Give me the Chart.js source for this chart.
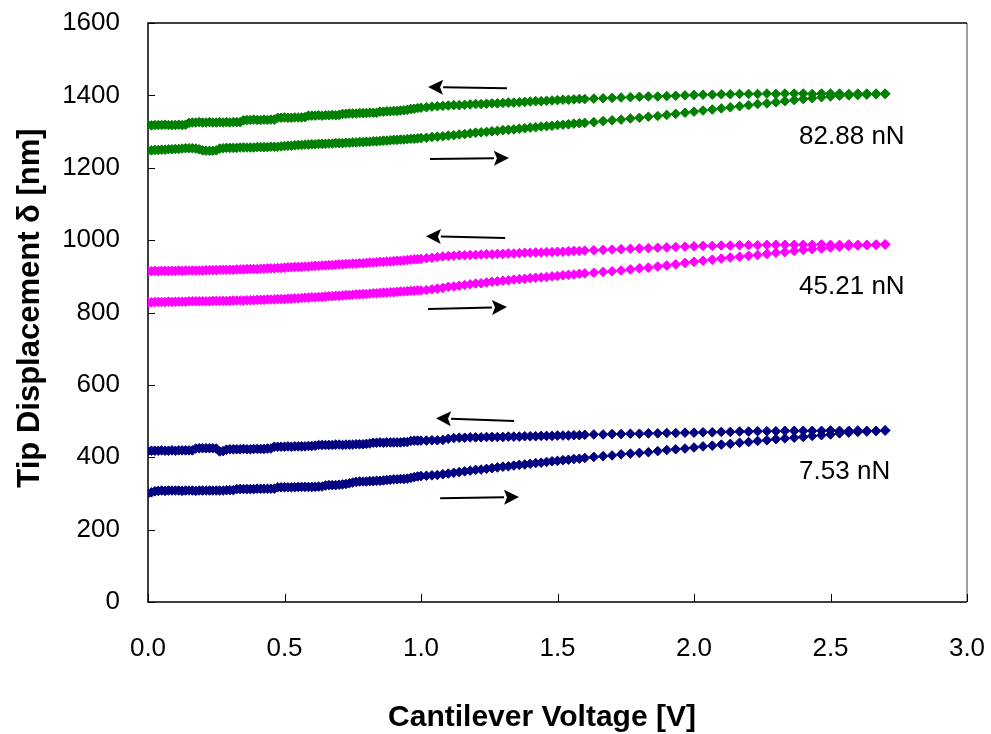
<!DOCTYPE html>
<html>
<head>
<meta charset="utf-8">
<title>Tip Displacement vs Cantilever Voltage</title>
<script src="https://cdn.jsdelivr.net/npm/chart.js@4.4.1/dist/chart.umd.min.js"></script>
<style>
  body { margin: 0; background: #fff; }
  #wrap { width: 991px; height: 734px; }
</style>
</head>
<body>
<div id="wrap"><canvas id="myChart" width="991" height="734"></canvas></div>
<script>
// cantilever voltage [V] at each sample, same points for the up and down sweep
// (fine steps below 1 V, coarser towards the top of the sweep)
const voltage = [
  0, 0.0125, 0.025, 0.0375, 0.05, 0.0625, 0.075, 0.0875,
  0.1, 0.1125, 0.125, 0.1375, 0.15, 0.1625, 0.175, 0.1875,
  0.2, 0.2125, 0.225, 0.2375, 0.25, 0.2625, 0.275, 0.2875,
  0.3, 0.3125, 0.325, 0.3375, 0.35, 0.3625, 0.375, 0.3875,
  0.4, 0.4125, 0.425, 0.4375, 0.45, 0.4625, 0.475, 0.4875,
  0.5, 0.5125, 0.525, 0.5375, 0.55, 0.5625, 0.575, 0.5875,
  0.6, 0.6125, 0.625, 0.6375, 0.65, 0.6625, 0.675, 0.6875,
  0.7, 0.7125, 0.725, 0.7375, 0.75, 0.7625, 0.775, 0.7875,
  0.8, 0.8125, 0.825, 0.8375, 0.85, 0.8625, 0.875, 0.8875,
  0.9, 0.9125, 0.925, 0.9375, 0.95, 0.9625, 0.975, 0.9875,
  1.0,
  1.02, 1.04, 1.06, 1.08, 1.1, 1.12, 1.14, 1.16, 1.18, 1.2,
  1.22, 1.24, 1.26, 1.28, 1.3, 1.32, 1.34, 1.36, 1.38, 1.4,
  1.42, 1.44, 1.46, 1.48, 1.5, 1.52, 1.54, 1.56, 1.58, 1.6,
  1.633, 1.667, 1.7, 1.733, 1.767, 1.8, 1.833, 1.867, 1.9, 1.933, 1.967, 2.0, 2.033, 2.067, 2.1, 2.133, 2.167, 2.2, 2.233,
  2.267, 2.3, 2.333, 2.367, 2.4, 2.433, 2.467, 2.5, 2.533, 2.567, 2.6, 2.633, 2.667, 2.7
];

// tip displacement [nm], "up" = voltage going up (lower branch), "down" = coming back (upper branch)
const green_up = [
  1248, 1248, 1249, 1249, 1250, 1250, 1251, 1251,
  1252, 1252, 1253, 1254, 1254, 1254, 1253, 1251,
  1248, 1247, 1247, 1247, 1248, 1253, 1254, 1255,
  1255, 1255, 1255, 1256, 1256, 1256, 1256, 1256,
  1257, 1257, 1257, 1257, 1258, 1258, 1258, 1259,
  1260, 1261, 1261, 1262, 1263, 1263, 1264, 1264,
  1265, 1265, 1266, 1266, 1266, 1267, 1267, 1268,
  1268, 1268, 1269, 1269, 1270, 1270, 1271, 1271,
  1272, 1272, 1273, 1273, 1274, 1275, 1275, 1276,
  1277, 1277, 1278, 1278, 1279, 1280, 1280, 1281,
  1282,
  1283, 1285, 1286, 1287, 1289, 1290, 1292, 1293, 1295, 1297,
  1298, 1299, 1301, 1302, 1304, 1305, 1306, 1308, 1309, 1311,
  1312, 1314, 1315, 1316, 1318, 1319, 1320, 1322, 1323, 1324,
  1326, 1329, 1331, 1333, 1336, 1338, 1341, 1343, 1346, 1349, 1352, 1355, 1358, 1361, 1364, 1367, 1370, 1373, 1376,
  1378, 1381, 1384, 1387, 1390, 1392, 1395, 1397, 1399, 1400, 1401, 1402, 1403, 1404
];
const green_down = [
  1318, 1317, 1318, 1318, 1318, 1319, 1318, 1318,
  1318, 1319, 1318, 1319, 1324, 1325, 1325, 1326,
  1325, 1325, 1326, 1325, 1325, 1326, 1325, 1326,
  1325, 1326, 1326, 1326, 1331, 1332, 1332, 1333,
  1332, 1332, 1333, 1332, 1333, 1333, 1338, 1338,
  1339, 1338, 1338, 1339, 1339, 1339, 1340, 1344,
  1344, 1344, 1345, 1344, 1345, 1345, 1346, 1345,
  1346, 1349, 1349, 1350, 1350, 1350, 1351, 1351,
  1351, 1352, 1352, 1352, 1355, 1355, 1356, 1356,
  1357, 1357, 1358, 1359, 1360, 1362, 1363, 1365,
  1366,
  1367, 1369, 1370, 1371, 1372, 1373, 1373, 1374, 1375, 1376,
  1376, 1377, 1378, 1378, 1379, 1380, 1380, 1381, 1382, 1383,
  1384, 1384, 1385, 1386, 1387, 1388, 1388, 1389, 1390, 1390,
  1391, 1392, 1393, 1394, 1395, 1396, 1397, 1397, 1398, 1399, 1400, 1401, 1402, 1402, 1403, 1403, 1404, 1404, 1404,
  1405, 1404, 1405, 1405, 1405, 1404, 1405, 1405, 1405, 1404, 1405, 1405, 1405, 1405
];
const pink_up = [
  828, 828, 829, 829, 829, 829, 830, 829,
  830, 830, 830, 830, 831, 831, 831, 831,
  831, 831, 831, 832, 832, 832, 832, 832,
  832, 833, 833, 833, 833, 834, 834, 834,
  835, 835, 835, 836, 836, 836, 837, 837,
  837, 838, 838, 839, 839, 840, 841, 841,
  842, 842, 843, 843, 844, 845, 845, 846,
  846, 847, 848, 848, 849, 850, 850, 851,
  851, 852, 853, 853, 854, 855, 855, 856,
  856, 857, 858, 858, 859, 860, 860, 861,
  861,
  862, 864, 866, 868, 871, 872, 874, 876, 878, 880,
  881, 883, 885, 886, 888, 889, 891, 892, 893, 895,
  896, 897, 898, 900, 901, 903, 904, 905, 907, 908,
  910, 912, 914, 916, 919, 922, 924, 927, 930, 933, 937, 940, 943, 946, 949, 952, 954, 957, 959,
  962, 965, 967, 970, 973, 975, 977, 980, 982, 984, 985, 986, 987, 988
];
const pink_down = [
  914, 914, 915, 914, 915, 915, 915, 915,
  915, 916, 915, 916, 916, 916, 916, 916,
  916, 917, 917, 917, 917, 918, 918, 918,
  918, 918, 919, 919, 919, 920, 920, 920,
  920, 921, 921, 922, 922, 922, 923, 923,
  924, 925, 925, 926, 926, 926, 927, 927,
  928, 929, 929, 930, 930, 931, 931, 932,
  933, 933, 934, 934, 935, 935, 936, 936,
  937, 938, 938, 939, 940, 940, 941, 941,
  942, 943, 943, 944, 945, 946, 947, 947,
  948,
  950, 951, 953, 955, 956, 957, 958, 958, 959, 959,
  960, 961, 961, 962, 962, 963, 963, 964, 965, 965,
  966, 966, 967, 967, 968, 968, 969, 970, 970, 971,
  972, 973, 974, 975, 976, 977, 978, 979, 980, 981, 982, 983, 984, 984, 985, 985, 986, 986, 986,
  987, 987, 987, 987, 987, 987, 988, 987, 987, 988, 987, 987, 988, 988
];
const blue_up = [
  300, 303, 306, 307, 308, 307, 308, 308,
  308, 308, 307, 308, 308, 308, 307, 308,
  308, 308, 308, 308, 308, 308, 308, 309,
  309, 309, 312, 312, 312, 312, 312, 312,
  313, 313, 313, 313, 313, 313, 317, 317,
  317, 317, 317, 317, 318, 318, 318, 318,
  318, 318, 319, 319, 322, 323, 323, 323,
  324, 325, 326, 328, 330, 332, 333, 333,
  333, 334, 334, 335, 335, 336, 337, 338,
  339, 339, 340, 340, 341, 343, 345, 347,
  348,
  349, 350, 351, 353, 355, 357, 359, 361, 363, 365,
  366, 368, 370, 372, 374, 375, 377, 379, 380, 382,
  384, 385, 387, 389, 390, 392, 393, 395, 396, 398,
  401, 403, 405, 408, 410, 412, 414, 417, 420, 422, 424, 427, 430, 432, 435, 437, 440, 442, 445,
  447, 450, 452, 454, 456, 459, 461, 463, 466, 468, 470, 471, 473, 474
];
const blue_down = [
  417, 418, 418, 418, 419, 418, 418, 419,
  418, 419, 419, 419, 419, 419, 424, 425,
  425, 425, 425, 425, 424, 416, 417, 421,
  422, 422, 422, 422, 423, 422, 422, 423,
  423, 423, 423, 424, 424, 429, 429, 429,
  429, 430, 429, 430, 430, 430, 430, 431,
  431, 432, 434, 434, 434, 434, 434, 435,
  435, 434, 435, 435, 435, 436, 436, 436,
  437, 438, 440, 440, 441, 440, 441, 441,
  441, 441, 441, 442, 442, 445, 446, 446,
  446,
  446, 447, 447, 448, 451, 453, 454, 454, 455, 455,
  455, 456, 456, 456, 456, 457, 457, 457, 458, 458,
  458, 459, 459, 459, 460, 460, 460, 461, 461, 462,
  463, 463, 464, 464, 465, 465, 466, 466, 467, 467, 468, 468, 469, 469, 470, 470, 471, 471, 472,
  472, 472, 473, 473, 473, 473, 473, 474, 473, 473, 474, 473, 473, 474
];

// applied force for each pair of curves
const forces = ['82.88 nN', '45.21 nN', '7.53 nN'];

const xTicks = [0, 0.5, 1.0, 1.5, 2.0, 2.5, 3.0];
const yTicks = [0, 200, 400, 600, 800, 1000, 1200, 1400, 1600];

const xTitle = 'Cantilever Voltage [V]';
const yTitle = 'Tip Displacement δ [nm]';

const GREEN = '#008000', PINK = '#ff00ff', NAVY = '#000080';

// pair voltage with displacement for the scatter chart
function toPoints(ys) {
  return voltage.map((v, i) => ({ x: v, y: ys[i] }));
}

function series(ys, color) {
  return {
    data: toPoints(ys),
    pointStyle: 'rectRot',
    pointRadius: 4.8,
    pointBorderWidth: 1,
    backgroundColor: color,
    borderColor: color,
    showLine: false
  };
}

// sweep direction arrows, in data units: [x from, y from, x to, y to]
const arrows = [
  [1.315, 1420, 1.026, 1423], [1.033, 1224, 1.322, 1227],
  [1.308, 1006, 1.018, 1011], [1.026, 810, 1.315, 815],
  [1.341, 500, 1.055, 508], [1.070, 287, 1.359, 290]
];
// where the force labels go (left edge, middle of text)
const labelPos = [[2.385, 1285], [2.385, 870], [2.385, 359]];

function drawArrow(ctx, x1, y1, x2, y2) {
  const a = Math.atan2(y2 - y1, x2 - x1);
  const head = 15, half = 7.5;
  const c = Math.cos(a), s = Math.sin(a);
  ctx.beginPath();
  ctx.moveTo(x1, y1);
  ctx.lineTo(x2 - head * c, y2 - head * s);
  ctx.stroke();
  ctx.beginPath();
  ctx.moveTo(x2, y2);
  ctx.lineTo(x2 - head * c + half * s, y2 - head * s - half * c);
  ctx.lineTo(x2 - head * c * 0.8, y2 - head * s * 0.8);
  ctx.lineTo(x2 - head * c - half * s, y2 - head * s + half * c);
  ctx.closePath();
  ctx.fill();
}

// plot frame + inward tick marks, under the markers
const frame = {
  id: 'frame',
  beforeDatasetsDraw(chart) {
    const { ctx, chartArea: a, scales: { x, y } } = chart;
    ctx.save();
    ctx.lineWidth = 1.5;
    ctx.strokeStyle = '#808080';
    ctx.beginPath();
    ctx.moveTo(a.right, a.top);
    ctx.lineTo(a.right, a.bottom);
    ctx.stroke();
    ctx.strokeStyle = '#000';
    ctx.beginPath();
    ctx.moveTo(a.right, a.top);
    ctx.lineTo(a.left, a.top);
    ctx.lineTo(a.left, a.bottom);
    ctx.lineTo(a.right, a.bottom);
    ctx.stroke();
    ctx.lineWidth = 1;
    xTicks.forEach(v => {
      const px = Math.round(x.getPixelForValue(v)) + 0.5;
      ctx.beginPath();
      ctx.moveTo(px, a.bottom);
      ctx.lineTo(px, a.bottom - 8);
      ctx.stroke();
    });
    yTicks.forEach(v => {
      const py = Math.round(y.getPixelForValue(v)) + 0.5;
      ctx.beginPath();
      ctx.moveTo(a.left, py);
      ctx.lineTo(a.left + 7, py);
      ctx.stroke();
    });
    ctx.restore();
  }
};

// arrows, force labels and the two axis titles
const notes = {
  id: 'notes',
  afterDraw(chart) {
    const { ctx, scales: { x, y } } = chart;
    ctx.save();
    ctx.strokeStyle = '#000';
    ctx.fillStyle = '#000';
    ctx.lineWidth = 2;
    arrows.forEach(r => {
      drawArrow(ctx, x.getPixelForValue(r[0]), y.getPixelForValue(r[1]),
        x.getPixelForValue(r[2]), y.getPixelForValue(r[3]));
    });
    ctx.font = "26px 'Liberation Sans', Arial, sans-serif";
    ctx.textAlign = 'left';
    ctx.textBaseline = 'middle';
    forces.forEach((t, i) => {
      ctx.fillText(t, x.getPixelForValue(labelPos[i][0]), y.getPixelForValue(labelPos[i][1]));
    });

    ctx.textAlign = 'center';
    ctx.font = "bold 30px 'Liberation Sans', Arial, sans-serif";
    ctx.fillText(xTitle, 542, 718);
    ctx.font = "bold 31px 'Liberation Sans', Arial, sans-serif";
    ctx.translate(30, 308);
    ctx.rotate(-Math.PI / 2);
    ctx.fillText(yTitle, 0, 0);
    ctx.restore();
  }
};

Chart.defaults.font.family = "'Liberation Sans', Arial, sans-serif";
Chart.defaults.color = '#000';

const myChart = new Chart(document.getElementById('myChart'), {
  type: 'scatter',
  data: {
    datasets: [
      series(green_down, GREEN), series(green_up, GREEN),
      series(pink_down, PINK), series(pink_up, PINK),
      series(blue_down, NAVY), series(blue_up, NAVY)
    ]
  },
  options: {
    responsive: false,
    animation: false,
    layout: { padding: { left: 0, right: 24, top: 23, bottom: 0 } },
    plugins: { legend: { display: false }, tooltip: { enabled: false } },
    scales: {
      x: {
        type: 'linear',
        min: 0, max: 3,
        grid: { display: false, drawTicks: false },
        border: { display: false },
        ticks: { stepSize: 0.5, padding: 31, font: { size: 26 }, callback: v => v.toFixed(1) },
        // fixed height, and no extra side padding for the end labels
        afterFit: s => { s.height = 132; s.paddingLeft = 0; s.paddingRight = 0; }
      },
      y: {
        min: 0, max: 1600,
        grid: { display: false, drawTicks: false },
        border: { display: false },
        ticks: { stepSize: 200, padding: 28, font: { size: 26 }, callback: v => String(v) },
        afterFit: s => { s.width = 148; s.paddingTop = 0; s.paddingBottom = 0; }
      }
    }
  },
  plugins: [frame, notes]
});
</script>
</body>
</html>
